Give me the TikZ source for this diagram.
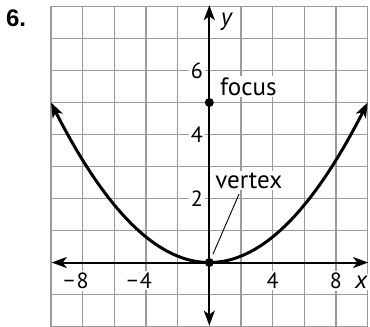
\documentclass[tikz,border=0pt]{standalone}
\usepackage{fontspec}
\setmainfont{PT Sans}
\newfontfamily\headfont{Liberation Sans}
\usetikzlibrary{arrows.meta}
\definecolor{cGrid}{HTML}{9B9B9B}
\tikzset{
  gridline/.style={cGrid, line width=1.2pt},
  axis/.style={{Stealth[length=15pt, width=11pt, inset=4pt]}-{Stealth[length=15pt, width=11pt, inset=4pt]},
    line width=2pt},
  curve/.style={{Stealth[length=15pt, width=11pt, inset=4pt]}-{Stealth[length=15pt, width=11pt, inset=4pt]},
    line width=3pt},
  ticklbl/.style={fill=white, inner sep=2pt, anchor=base, font=\fontsize{22}{22}\selectfont},
  wordlbl/.style={fill=white, inner sep=1.5pt, anchor=base west, font=\fontsize{25}{25}\selectfont},
  dot/.style={circle, fill=black, inner sep=0pt, minimum size=9pt},
  leader/.style={line width=0.9pt, shorten >=4.5pt},
}

\begin{document}
\begin{tikzpicture}[x=15.83pt, y=32pt]
  \useasboundingbox (-13.22,-1.984) rectangle (10.15,8.203);

  % Exercise number
  \node[anchor=base west, inner sep=0pt, font=\headfont\bfseries\fontsize{24}{24}\selectfont]
    (num) at (-12.85,7.39) {6.};

  % Grid
  \foreach \i in {-10,-8,...,10}
    \draw[gridline] (\i,-2) -- (\i,8);
  \foreach \j in {-2,...,8}
    \draw[gridline] (-10,\j) -- (10,\j);

  % Tick labels
  \node[ticklbl] (xm8) at (-8,-0.806) {\llap{−\kern2pt}8};
  \node[ticklbl] (xm4) at (-4,-0.806) {\llap{−\kern2pt}4};
  \node[ticklbl] (xp4) at (4,-0.806) {4};
  \node[ticklbl] (xp8) at (8,-0.806) {8};
  \node[ticklbl] (y2) at (-0.78,1.76) {2};
  \node[ticklbl] (y4) at (-0.78,3.76) {4};
  \node[ticklbl] (y6) at (-0.78,5.76) {6};

  % Axis names
  \node[wordlbl, font=\fontsize{25}{25}\itshape\selectfont] (xname) at (9.11,-0.80) {x};
  \node[wordlbl, font=\fontsize{25}{25}\itshape\selectfont] (yname) at (0.62,7.42) {y};

  % Point labels
  \node[wordlbl] (focuslbl) at (0.58,5.23) {focus};
  \node[wordlbl] (vertexlbl) at (0.27,2.32) {vertex};

  % Axes
  \draw[axis] (-9.95,0) -- (10.03,0);
  \draw[axis] (0,-1.97) -- (0,8.04);

  % Parabola
  \draw[curve] plot[domain=-10:10, samples=81, smooth] (\x, {\x*\x/20});

  % Points
  \node[dot] (focus) at (0,5) {};
  \node[dot] (vtx) at (0,0) {};
  \coordinate (vtail) at (1.88,2.14);
  \draw[leader] (vtail) -- (vtx);

\end{tikzpicture}
\end{document}
